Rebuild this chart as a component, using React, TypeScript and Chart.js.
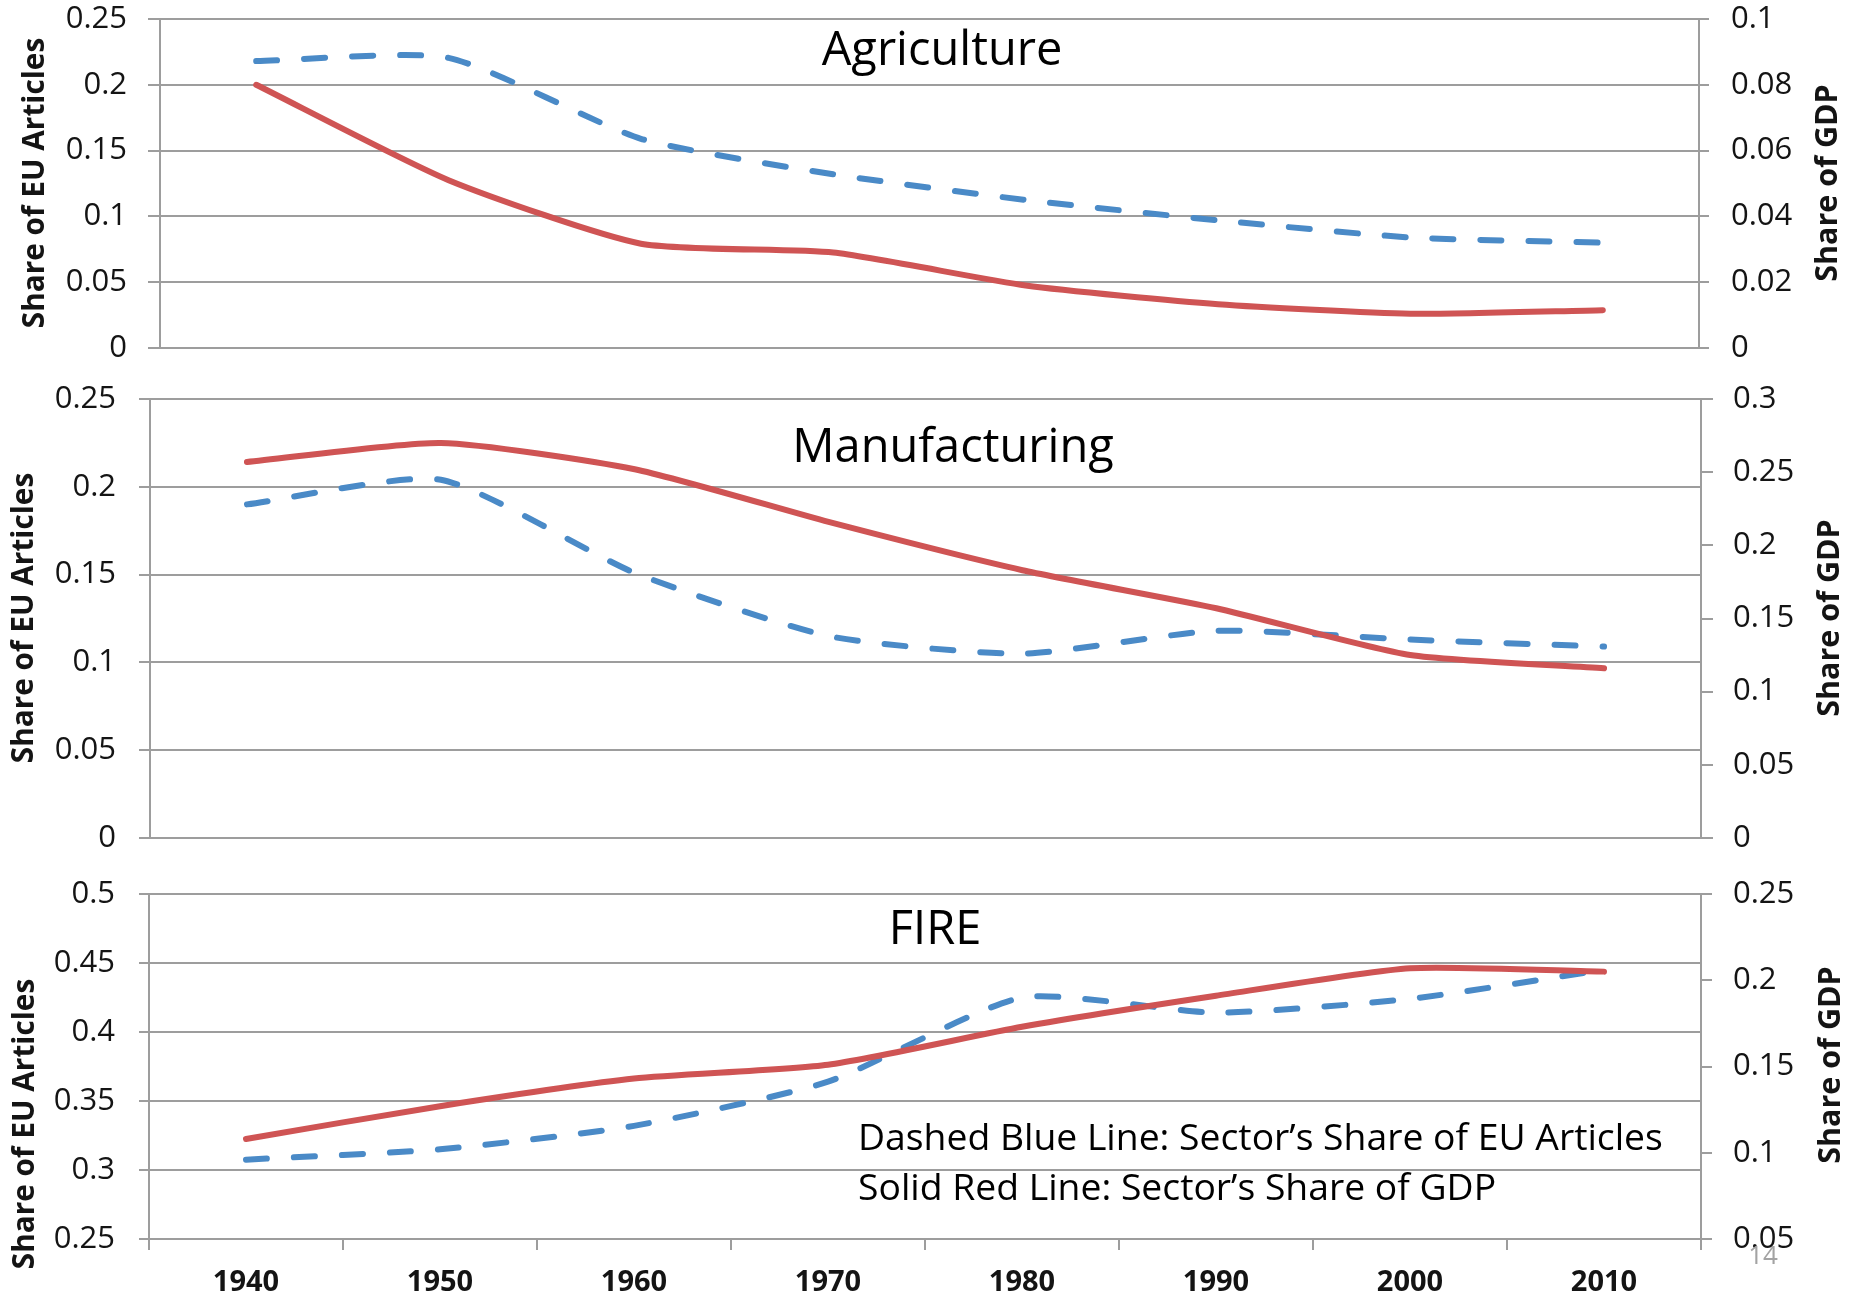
import React, { useEffect, useRef } from 'react';
import { Chart, registerables } from 'chart.js';

Chart.register(...registerables);

// ---------------- data ----------------
const YEARS = ['1940', '1950', '1960', '1970', '1980', '1990', '2000', '2010'];

const agricultureArticles = [0.218, 0.2205, 0.159, 0.132, 0.1125, 0.097, 0.084, 0.08];
const agricultureGdp = [0.08, 0.051, 0.0317, 0.029, 0.019, 0.0133, 0.0104, 0.0115];

const manufacturingArticles = [0.19, 0.204, 0.151, 0.115, 0.105, 0.118, 0.113, 0.109];
const manufacturingGdp = [0.257, 0.27, 0.252, 0.216, 0.183, 0.157, 0.125, 0.116];

const fireArticles = [0.3075, 0.315, 0.332, 0.364, 0.425, 0.414, 0.424, 0.445];
const fireGdp = [0.108, 0.127, 0.143, 0.151, 0.173, 0.191, 0.207, 0.205];

const LEFT_TITLE = 'Share of EU Articles';
const RIGHT_TITLE = 'Share of GDP';
const NOTE_LINES = [
  'Dashed Blue Line: Sector\u2019s Share of EU Articles',
  'Solid Red Line: Sector\u2019s Share of GDP',
];
const PAGE_NUMBER = '14';

// ---------------- style ----------------
const W = 1851;
const FONT = "'Open Sans', 'Noto Sans', 'DejaVu Sans', sans-serif";
const GRID = '#9d9d9d';
const RED = '#cf5454';
const BLUE = '#4a8ac7';
const TEXT = '#141414';

type Panel = {
  key: string;
  title: string;
  canvasTop: number;
  canvasH: number;
  areaLeft: number;
  areaRight: number;
  areaTop: number;
  areaBottom: number;
  leftTick: number;
  leftPad: number;
  rightTick: number;
  rightPad: number;
  leftMin: number;
  leftMax: number;
  leftStep: number;
  rightMin: number;
  rightMax: number;
  rightStep: number;
  articles: number[];
  gdp: number[];
  titleX: number;
  titleBaseline: number;
  leftTitleX: number;
  leftTitleY: number;
  rightTitleX: number;
  rightTitleY: number;
  showX: boolean;
  xHeight: number;
  notes: boolean;
};

const PANELS: Panel[] = [
  {
    key: 'agri', title: 'Agriculture',
    canvasTop: 0, canvasH: 372,
    areaLeft: 160, areaRight: 1699, areaTop: 19, areaBottom: 348,
    leftTick: 12, leftPad: 21, rightTick: 10, rightPad: 22,
    leftMin: 0, leftMax: 0.25, leftStep: 0.05,
    rightMin: 0, rightMax: 0.1, rightStep: 0.02,
    articles: agricultureArticles, gdp: agricultureGdp,
    titleX: 942, titleBaseline: 65,
    leftTitleX: 36, leftTitleY: 183, rightTitleX: 1828, rightTitleY: 183,
    showX: false, xHeight: 0, notes: false,
  },
  {
    key: 'manu', title: 'Manufacturing',
    canvasTop: 372, canvasH: 488,
    areaLeft: 150, areaRight: 1701, areaTop: 399, areaBottom: 838,
    leftTick: 11, leftPad: 23, rightTick: 12, rightPad: 20,
    leftMin: 0, leftMax: 0.25, leftStep: 0.05,
    rightMin: 0, rightMax: 0.3, rightStep: 0.05,
    articles: manufacturingArticles, gdp: manufacturingGdp,
    titleX: 953, titleBaseline: 462,
    leftTitleX: 25, leftTitleY: 618, rightTitleX: 1830, rightTitleY: 618,
    showX: false, xHeight: 0, notes: false,
  },
  {
    key: 'fire', title: 'FIRE',
    canvasTop: 860, canvasH: 438,
    areaLeft: 149, areaRight: 1701, areaTop: 894, areaBottom: 1239,
    leftTick: 10, leftPad: 24, rightTick: 11, rightPad: 21,
    leftMin: 0.25, leftMax: 0.5, leftStep: 0.05,
    rightMin: 0.05, rightMax: 0.25, rightStep: 0.05,
    articles: fireArticles, gdp: fireGdp,
    titleX: 935, titleBaseline: 944,
    leftTitleX: 26, leftTitleY: 1124, rightTitleX: 1831, rightTitleY: 1065,
    showX: true, xHeight: 59, notes: true,
  },
];

const fmt = (v: number | string) => String(Number(Number(v).toFixed(3)));

function drawRotated(ctx: CanvasRenderingContext2D, text: string, x: number, y: number) {
  ctx.save();
  ctx.translate(x, y);
  ctx.rotate(-Math.PI / 2);
  ctx.textAlign = 'center';
  ctx.textBaseline = 'middle';
  ctx.fillText(text, 0, 0);
  ctx.restore();
}

function makeTextPlugin(p: Panel) {
  return {
    id: 'panelText_' + p.key,
    afterDraw(chart: any) {
      const ctx: CanvasRenderingContext2D = chart.ctx;
      const off = p.canvasTop;
      ctx.save();
      ctx.fillStyle = '#000000';
      ctx.font = `47px ${FONT}`;
      ctx.textAlign = 'center';
      ctx.textBaseline = 'alphabetic';
      ctx.fillText(p.title, p.titleX, p.titleBaseline - off);

      ctx.fillStyle = TEXT;
      ctx.font = `bold 29.8px ${FONT}`;
      drawRotated(ctx, LEFT_TITLE, p.leftTitleX, p.leftTitleY - off);
      ctx.font = `bold 30.5px ${FONT}`;
      drawRotated(ctx, RIGHT_TITLE, p.rightTitleX, p.rightTitleY - off);

      if (p.notes) {
        ctx.fillStyle = '#000000';
        ctx.font = `37.3px ${FONT}`;
        ctx.textAlign = 'left';
        ctx.textBaseline = 'alphabetic';
        ctx.fillText(NOTE_LINES[0], 858, 1150 - off);
        ctx.fillText(NOTE_LINES[1], 858, 1200 - off);

        ctx.fillStyle = '#a3a3a3';
        ctx.font = `26px ${FONT}`;
        ctx.textAlign = 'center';
        ctx.fillText(PAGE_NUMBER, 1763, 1264 - off);
      }
      ctx.restore();
    },
  };
}

const zeroPad = (s: any) => {
  s.paddingTop = 0;
  s.paddingBottom = 0;
  s.paddingLeft = 0;
  s.paddingRight = 0;
};

function PanelChart({ p }: { p: Panel }) {
  const ref = useRef<HTMLCanvasElement | null>(null);

  useEffect(() => {
    if (!ref.current) return;
    const localTop = p.areaTop - p.canvasTop;
    const localBottom = p.areaBottom - p.canvasTop;
    const chart = new Chart(ref.current, {
      type: 'line',
      data: {
        labels: YEARS,
        datasets: [
          {
            label: RIGHT_TITLE,
            data: p.gdp,
            yAxisID: 'yR',
            borderColor: RED,
            borderWidth: 6,
            borderCapStyle: 'round',
            borderJoinStyle: 'round',
            pointRadius: 0,
            pointHoverRadius: 0,
            tension: 0.2,
            fill: false,
          },
          {
            label: LEFT_TITLE,
            data: p.articles,
            yAxisID: 'yL',
            borderColor: BLUE,
            borderWidth: 6,
            borderDash: [21, 27],
            borderCapStyle: 'round',
            borderJoinStyle: 'round',
            pointRadius: 0,
            pointHoverRadius: 0,
            tension: 0.2,
            fill: false,
          },
        ],
      },
      options: {
        responsive: false,
        animation: false,
        events: [],
        layout: {
          autoPadding: false,
          padding: {
            left: 0,
            right: 0,
            top: localTop,
            bottom: p.canvasH - localBottom - p.xHeight,
          },
        },
        plugins: {
          legend: { display: false },
          tooltip: { enabled: false },
          title: { display: false },
        },
        scales: {
          x: {
            type: 'category',
            display: p.showX,
            offset: true,
            afterFit: (s: any) => { s.height = p.xHeight; zeroPad(s); },
            grid: {
              offset: true,
              drawOnChartArea: false,
              drawTicks: true,
              tickLength: 11,
              color: GRID,
              lineWidth: 2,
            },
            border: { display: true, color: GRID, width: 2 },
            ticks: {
              color: TEXT,
              font: { family: FONT, size: 29, weight: 'bold' },
              padding: 15,
              maxRotation: 0,
              autoSkip: false,
            },
          },
          yL: {
            type: 'linear',
            position: 'left',
            min: p.leftMin,
            max: p.leftMax,
            afterFit: (s: any) => { s.width = p.areaLeft; zeroPad(s); },
            grid: {
              drawOnChartArea: true,
              drawTicks: true,
              tickLength: p.leftTick,
              color: GRID,
              lineWidth: 2,
            },
            border: { display: true, color: GRID, width: 2 },
            ticks: {
              stepSize: p.leftStep,
              color: TEXT,
              font: { family: FONT, size: 31 },
              padding: p.leftPad,
              callback: (v: any) => fmt(v),
            },
          },
          yR: {
            type: 'linear',
            position: 'right',
            min: p.rightMin,
            max: p.rightMax,
            afterFit: (s: any) => { s.width = W - p.areaRight; zeroPad(s); },
            grid: {
              drawOnChartArea: false,
              drawTicks: true,
              tickLength: p.rightTick,
              color: GRID,
              lineWidth: 2,
            },
            border: { display: true, color: GRID, width: 2 },
            ticks: {
              stepSize: p.rightStep,
              color: TEXT,
              font: { family: FONT, size: 31 },
              padding: p.rightPad,
              callback: (v: any) => fmt(v),
            },
          },
        },
      } as any,
      plugins: [makeTextPlugin(p)],
    });
    return () => chart.destroy();
  }, [p]);

  return (
    <canvas
      ref={ref}
      width={W}
      height={p.canvasH}
      style={{ position: 'absolute', left: 0, top: p.canvasTop, width: W, height: p.canvasH }}
    />
  );
}

export default function App() {
  return (
    <div
      style={{
        position: 'absolute',
        left: 0,
        top: 0,
        width: W,
        height: 1298,
        background: '#ffffff',
        overflow: 'hidden',
      }}
    >
      {PANELS.map((p) => (
        <PanelChart key={p.key} p={p} />
      ))}
    </div>
  );
}
